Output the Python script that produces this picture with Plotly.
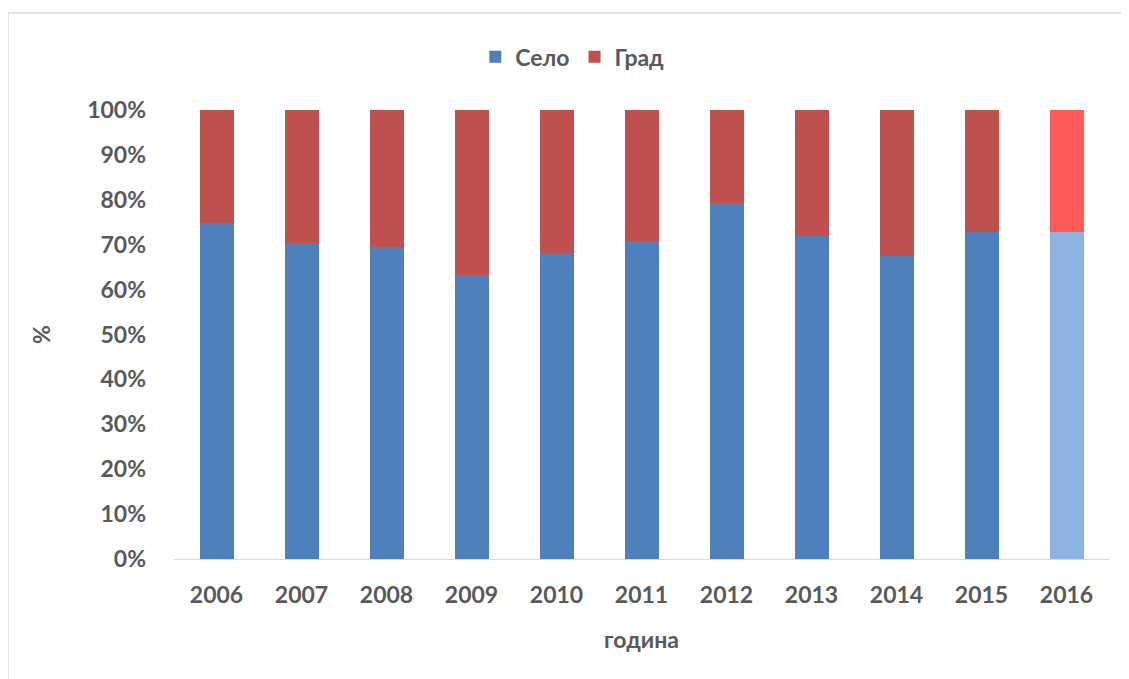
import plotly.graph_objects as go

years = ["2006", "2007", "2008", "2009", "2010", "2011", "2012", "2013", "2014", "2015", "2016"]
selo = [74.8, 70.3, 69.4, 63.2, 68.1, 70.8, 79.2, 71.9, 67.4, 72.8, 72.8]
grad = [25.2, 29.7, 30.6, 36.8, 31.9, 29.2, 20.8, 28.1, 32.6, 27.2, 27.2]
y_ticks = [0, 10, 20, 30, 40, 50, 60, 70, 80, 90, 100]

blue = ["#4F7FBC"] * 10 + ["#8DB3E2"]
red = ["#C0504D"] * 10 + ["#FF5A5A"]

txt = "#595959"
font_fam = "Lato, Open Sans, sans-serif"
fs = 23

fig = go.Figure()
fig.add_trace(go.Bar(x=years, y=selo, name="Село", marker=dict(color=blue, line_width=0)))
fig.add_trace(go.Bar(x=years, y=grad, name="Град", marker=dict(color=red, line_width=0)))

fig.update_layout(
    barmode="stack",
    bargap=0.6,
    width=1129, height=679,
    paper_bgcolor="white", plot_bgcolor="white",
    margin=dict(l=166, r=28, t=102, b=128, autoexpand=False),
    font=dict(family=font_fam, color=txt, size=fs, weight="bold"),
    legend=dict(orientation="h", x=0.426, xanchor="center", y=0.928, yref="container",
                yanchor="middle", traceorder="normal", bgcolor="rgba(0,0,0,0)",
                font=dict(size=fs, color=txt, weight="bold"),
                itemwidth=30, tracegroupgap=0),
    xaxis=dict(title=dict(text="година", font=dict(size=fs, color=txt, weight="bold"), standoff=25),
               showline=True, linecolor="#D9D9D9", linewidth=1, ticks="",
               ticklabelstandoff=15,
               tickfont=dict(size=fs, color=txt, weight="bold"), showgrid=False),
    yaxis=dict(title=dict(text="%", font=dict(size=fs, color=txt, weight="bold"), standoff=30),
               range=[0, 100], tickvals=y_ticks, ticktext=[f"{v}%" for v in y_ticks],
               showgrid=False, zeroline=False, ticks="", ticklabelstandoff=27,
               tickfont=dict(size=fs, color=txt, weight="bold")),
)
fig.add_shape(type="rect", xref="paper", yref="paper", x0=-0.1776, x1=1.0198, y0=-0.30, y1=1.216,
              line=dict(color="#D9D9D9", width=1.5), layer="below")
fig.write_html("out.html")
